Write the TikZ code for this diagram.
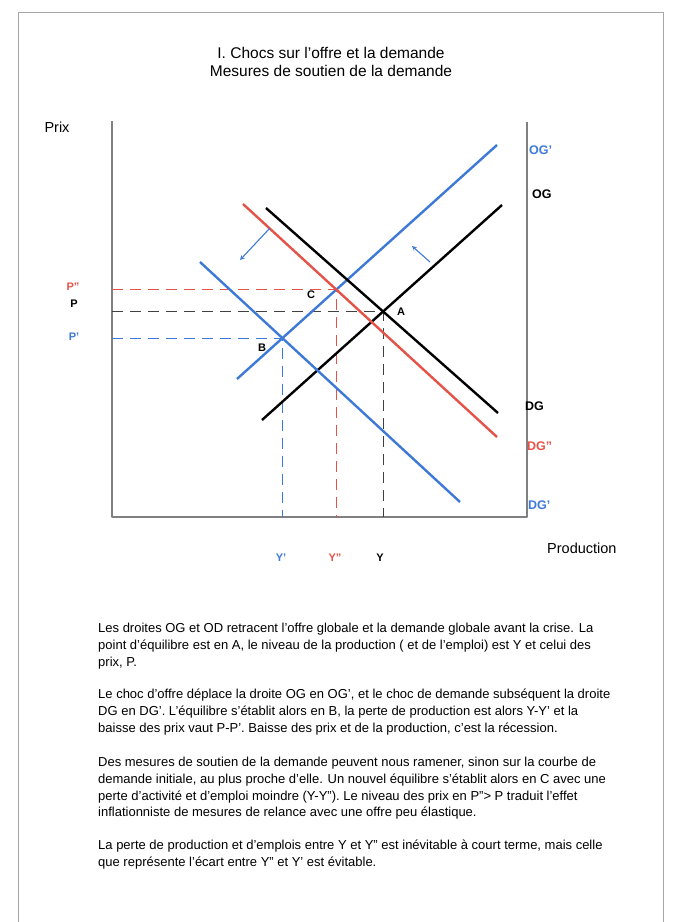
\documentclass[tikz,border=0pt]{standalone}
\usepackage{fontspec}
\setmainfont{Liberation Sans}
\definecolor{offreblue}{RGB}{61,121,216}
\definecolor{relancered}{RGB}{229,83,72}
\definecolor{axisgray}{RGB}{128,128,128}

\begin{document}
\begin{tikzpicture}[x=1pt,y=-1pt,line join=round,
  axis/.style={draw=axisgray,line width=1.8pt},
  curve/.style={line width=2.4pt},
  guide/.style={line width=1.1pt,dash pattern=on 11pt off 7pt},
  shiftarrow/.style={draw=offreblue,line width=1.1pt,->,>=stealth},
  curvelbl/.style={font=\fontsize{12.5}{14}\selectfont\bfseries,inner sep=0pt,anchor=west},
  lvl/.style={font=\fontsize{11}{13}\selectfont\bfseries,inner sep=0pt},
  para/.style={font=\fontsize{13}{16.7}\selectfont,align=left,inner sep=0pt,anchor=north west}]
  \useasboundingbox (0,0) rectangle (679,922);
  \draw[axisgray!70,line width=0.8pt] (18,922) -- (18,12) -- (663,12) -- (663,922);

  \node[align=center,font=\fontsize{15.5}{18.5}\selectfont] (title) at (331,62)
    {I. Chocs sur l'offre et la demande\\Mesures de soutien de la demande};

  \coordinate (O) at (112,517);
  \coordinate (Ytop) at (112,121);
  \coordinate (Xend) at (527,517);
  \coordinate (Rtop) at (527,122);
  \draw[axis] (Ytop) -- (O) -- (Xend) -- (Rtop);
  \node[font=\fontsize{14.5}{16}\selectfont,inner sep=0pt] (prix) at (57,127) {Prix};
  \node[font=\fontsize{14.5}{16}\selectfont,inner sep=0pt,anchor=west] (prod) at (547,548) {Production};

  \coordinate (OGa) at (262,420);   \coordinate (OGb) at (502,205);
  \coordinate (OGpa) at (237,379);  \coordinate (OGpb) at (497,145);
  \coordinate (DGa) at (266,208);   \coordinate (DGb) at (498,413);
  \coordinate (DGsa) at (243,204);  \coordinate (DGsb) at (497,437);
  \coordinate (DGpa) at (200,262);  \coordinate (DGpb) at (460,502);

  \coordinate (A) at (intersection of OGa--OGb and DGa--DGb);
  \coordinate (B) at (intersection of OGpa--OGpb and DGpa--DGpb);
  \coordinate (C) at (intersection of OGpa--OGpb and DGsa--DGsb);

  \draw[guide,relancered] (C -| O) -- (C) -- (C |- O);
  \draw[guide,black!75] (A -| O) -- (A) -- (A |- O);
  \draw[guide,offreblue] (B -| O) -- (B) -- (B |- O);

  \draw[curve,black] (OGa) -- (OGb);
  \draw[curve,offreblue] (OGpa) -- (OGpb);
  \draw[curve,black] (DGa) -- (DGb);
  \draw[curve,relancered] (DGsa) -- (DGsb);
  \draw[curve,offreblue] (DGpa) -- (DGpb);

  \coordinate (dfrom) at (270,228);  \coordinate (dto) at (240,260);
  \coordinate (ofrom) at (430,262);  \coordinate (oto) at (412,246);
  \draw[shiftarrow] (dfrom) -- (dto);
  \draw[shiftarrow] (ofrom) -- (oto);

  \node[lvl] (labA) at (401,312) {A};
  \node[lvl] (labB) at (262,348) {B};
  \node[lvl] (labC) at (311,295) {C};

  \node[curvelbl,offreblue] (lOGp) at (529,150) {OG'};
  \node[curvelbl] (lOG) at (532,194) {OG};
  \node[curvelbl] (lDG) at (525,406) {DG};
  \node[curvelbl,relancered] (lDGs) at (527,446) {DG''};
  \node[curvelbl,offreblue] (lDGp) at (528,505) {DG'};

  \node[lvl,relancered] (lPs) at (73,287) {P''};
  \node[lvl] (lP) at (74,304) {P};
  \node[lvl,offreblue] (lPp) at (74,337) {P'};
  \node[lvl,offreblue] (lYp) at (281,558) {Y'};
  \node[lvl,relancered] (lYs) at (335,558) {Y''};
  \node[lvl] (lY) at (380,558) {Y};

  \node[para] (para1) at (98,623) {Les droites OG et OD retracent l'offre globale et la demande globale avant la crise. La\\
    point d'équilibre est en A, le niveau de la production ( et de l'emploi) est Y et celui des\\
    prix, P.};
  \node[para] (para2) at (98,689) {Le choc d'offre déplace la droite OG en OG', et le choc de demande subséquent la droite\\
    DG en DG'. L'équilibre s'établit alors en B, la perte de production est alors Y-Y' et la\\
    baisse des prix vaut P-P'. Baisse des prix et de la production, c'est la récession.};
  \node[para] (para3) at (98,757) {Des mesures de soutien de la demande peuvent nous ramener, sinon sur la courbe de\\
    demande initiale, au plus proche d'elle. Un nouvel équilibre s'établit alors en C avec une\\
    perte d'activité et d'emploi moindre (Y-Y''). Le niveau des prix en P''> P traduit l'effet\\
    inflationniste de mesures de relance avec une offre peu élastique.};
  \node[para] (para4) at (98,840) {La perte de production et d'emplois entre Y et Y'' est inévitable à court terme, mais celle\\
    que représente l'écart entre Y'' et Y' est évitable.};
\end{tikzpicture}
\end{document}
